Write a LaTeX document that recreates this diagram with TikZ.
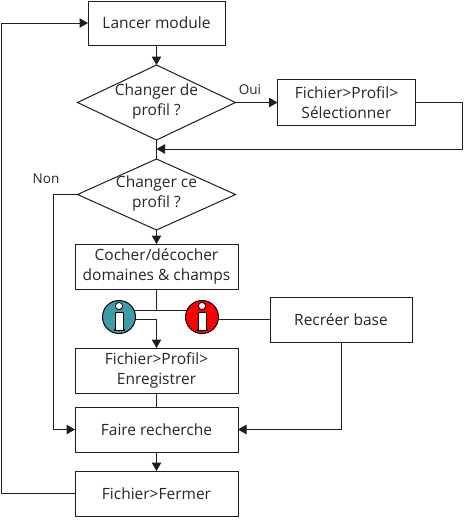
\documentclass[tikz,border=0pt]{standalone}
\usepackage{fontspec}
\setmainfont{Open Sans}
\usetikzlibrary{arrows.meta,positioning,shapes.geometric,calc}
\definecolor{infoblue}{RGB}{62,155,168}
\definecolor{infored}{RGB}{255,0,0}
\definecolor{lineink}{RGB}{30,30,30}
\tikzset{
  stepbox/.style={rectangle,draw=lineink,fill=white,minimum width=163pt,minimum height=45pt,inner sep=0pt,outer sep=0pt,align=center},
  decision/.style={diamond,draw=lineink,minimum width=158pt,inner sep=0pt,outer sep=0pt},
  infonode/.style={circle,draw=black,minimum size=33pt,inner sep=0pt,outer sep=0pt},
  note/.style={font=\fontsize{13.5}{16}\selectfont,inner sep=0pt},
}
\newcommand{\infomark}[1]{
  \draw[-,draw=black,fill=white,line width=.8pt] ($(#1)+(0,11)$) circle (3.6);
  \draw[-,draw=black,fill=white,line width=.8pt] ($(#1)+(-4,5)$) -- ++(8,0) -- ++(0,-17) -- ++(1,0) -- ++(0,-1.5)
    -- ++(-10,0) -- ++(0,1.5) -- ++(1,0) -- cycle;
}
\begin{document}
\begin{tikzpicture}[x=1pt,y=1pt,->,>={Triangle[length=8.5pt,width=9.5pt]},line width=1pt,lineink,
  every node/.style={text=black!85,font=\fontsize{15.5}{20}\selectfont}]
  \useasboundingbox (0,0) rectangle (469,-523);
  % main column
  \node[stepbox,minimum width=137pt,minimum height=44pt] (lancer) at (156.5,-23) {Lancer module};
  \node[decision,minimum height=75pt,below=20pt of lancer,
    label={[align=center,yshift=1pt]center:{Changer de\\profil ?}}] (profilA) {};
  \node[decision,minimum height=71pt,below=19pt of profilA,
    label={[align=center,yshift=1pt]center:{Changer ce\\profil ?}}] (profilB) {};
  \node[stepbox,below=14pt of profilB] (cocher) {Cocher/décocher\\domaines \& champs};
  \node[stepbox,below=59pt of cocher] (enreg) {Fichier>Profil>\\Enregistrer};
  \node[stepbox,below=14pt of enreg] (faire) {Faire recherche};
  \node[stepbox,below=19pt of faire] (fermer) {Fichier>Fermer};
  % side boxes
  \node[stepbox,minimum width=138pt,minimum height=46pt,right=42pt of profilA] (select) {Fichier>Profil>\\Sélectionner};
  \node[stepbox,minimum width=142pt,minimum height=45pt] (recreer) at (341,-319.5) {Recréer base};
  \node[infonode,fill=infoblue] (infoA) at (119,-317) {};
  \node[infonode,fill=infored] (infoB) at (202,-317) {};
  \infomark{infoA}
  \infomark{infoB}
  \node[note] (oui) at (250,-90) {Oui};
  \node[note] (non) at (46,-179) {Non};
  \coordinate (merge) at (profilA |- 0,-149);

  \draw (lancer) -- (profilA);
  \draw (profilA) -- (select);
  \draw[-] (profilA) -- (profilB);
  \draw (select.east) -- ++(47,0) |- (merge);
  \draw (profilB) -- (cocher);
  \draw (profilB.west) -- ++(-24,0) |- (faire.west);
  \draw[-] (cocher.south) |- (infoA.25);
  \draw[-] (infoB.155) -- (infoA.25);
  \draw (infoA.-10) -| (enreg.north);
  \draw[-] (recreer.west) -- (infoB.east |- recreer.west);
  \draw[-] (enreg) -- (faire);
  \draw (recreer.south) |- (faire.east);
  \draw (faire) -- (fermer);
  \draw (fermer.west) -- ++(-74,0) |- (lancer.west);
\end{tikzpicture}
\end{document}
